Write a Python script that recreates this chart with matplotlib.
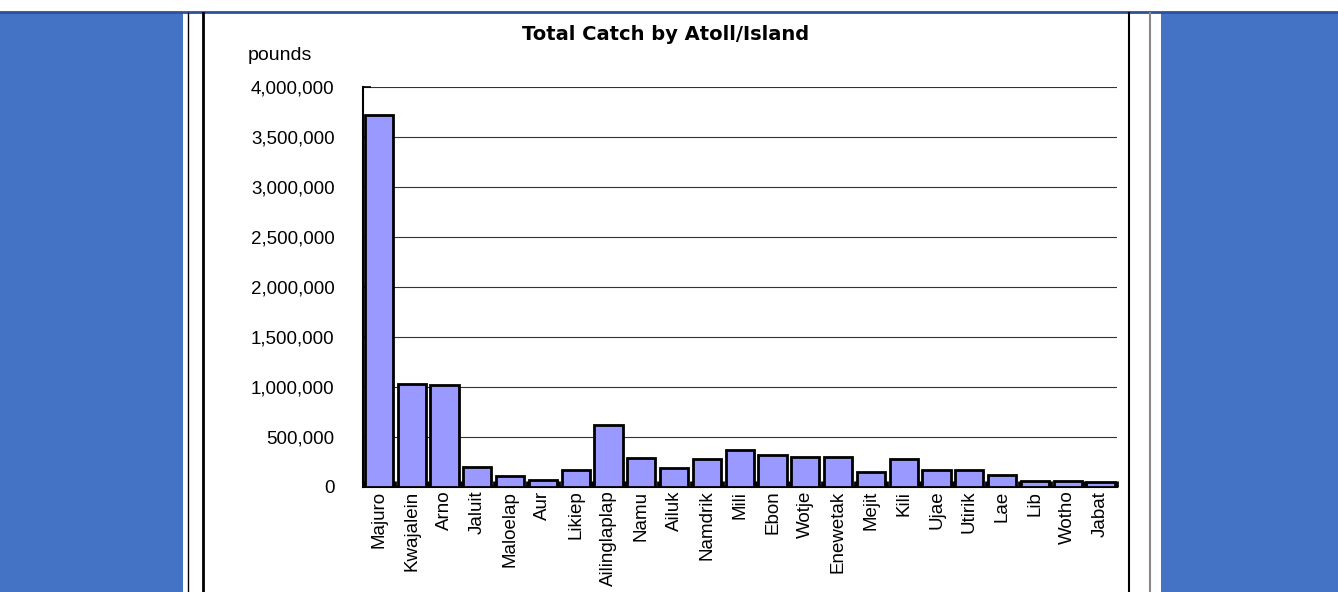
import matplotlib.pyplot as plt
from matplotlib.patches import Rectangle
from matplotlib.lines import Line2D
from matplotlib.ticker import FuncFormatter, MultipleLocator

atolls = ['Majuro', 'Kwajalein', 'Arno', 'Jaluit', 'Maloelap', 'Aur', 'Likiep',
          'Ailinglaplap', 'Namu', 'Ailuk', 'Namdrik', 'Mili', 'Ebon', 'Wotje',
          'Enewetak', 'Mejit', 'Kili', 'Ujae', 'Utirik', 'Lae', 'Lib', 'Wotho',
          'Jabat']
catch = [3720000, 1030000, 1020000, 200000, 110000, 70000, 170000,
         620000, 290000, 190000, 275000, 370000, 320000, 300000,
         300000, 150000, 275000, 165000, 165000, 115000, 55000, 55000,
         45000]

plt.rcParams['font.family'] = ['Liberation Sans', 'DejaVu Sans']

W, H = 1338, 592
fig = plt.figure(figsize=(W / 100, H / 100), dpi=100)
fig.patch.set_facecolor('white')

# page decoration: blue side panels, top rule, frame lines
blue = '#4472C4'
fig.add_artist(Rectangle((0, 0), 183 / W, (H - 13) / H, transform=fig.transFigure,
                         facecolor=blue, edgecolor='none', zorder=0))
fig.add_artist(Rectangle((1161 / W, 0), (W - 1161) / W, (H - 13) / H,
                         transform=fig.transFigure, facecolor=blue,
                         edgecolor='none', zorder=0))
fig.add_artist(Line2D([0, 1], [(H - 12) / H] * 2, transform=fig.transFigure,
                      color='#2F4F9A', lw=2))
for x, c, lw in [(188, 'black', 1.0), (203, 'black', 2.0),
                 (1129, 'black', 1.5), (1150, '#888888', 1.5)]:
    fig.add_artist(Line2D([x / W] * 2, [0, (H - 13) / H], transform=fig.transFigure,
                          color=c, lw=lw))

ax = fig.add_axes([362.5 / W, 105.5 / H, 754.5 / W, 399.5 / H])
x = range(len(atolls))
ax.bar(x, catch, width=0.86, color='#9999FF', edgecolor='black', linewidth=2,
       zorder=3)

ax.set_xlim(-0.5, len(atolls) - 0.5)
ax.set_ylim(0, 4000000)
ax.yaxis.set_major_locator(MultipleLocator(500000))
ax.yaxis.set_major_formatter(FuncFormatter(lambda v, p: f'{int(v):,}'))
ax.grid(axis='y', color='#333333', linewidth=0.8, zorder=1)

ax.set_xticks(list(x))
ax.set_xticklabels(atolls, rotation=90, fontsize=13.5)
ax.tick_params(axis='x', length=0, pad=3)
ax.set_xticks([i - 0.5 for i in range(len(atolls) + 1)], minor=True)
ax.tick_params(axis='x', which='minor', direction='in', length=4, width=2)
ax.tick_params(axis='y', direction='in', length=6, width=1.2, pad=20,
               labelsize=13.5)

for s in ['top', 'right']:
    ax.spines[s].set_visible(False)
ax.spines['left'].set_linewidth(1.5)
ax.spines['bottom'].set_linewidth(1.5)

fig.text(666 / W, 1 - 35 / H, 'Total Catch by Atoll/Island', ha='center',
         va='center', fontsize=14, fontweight='bold', family='DejaVu Sans')
fig.text(248 / W, 1 - 55 / H, 'pounds', ha='left', va='center', fontsize=14)

fig.savefig('out.png', dpi=100)
